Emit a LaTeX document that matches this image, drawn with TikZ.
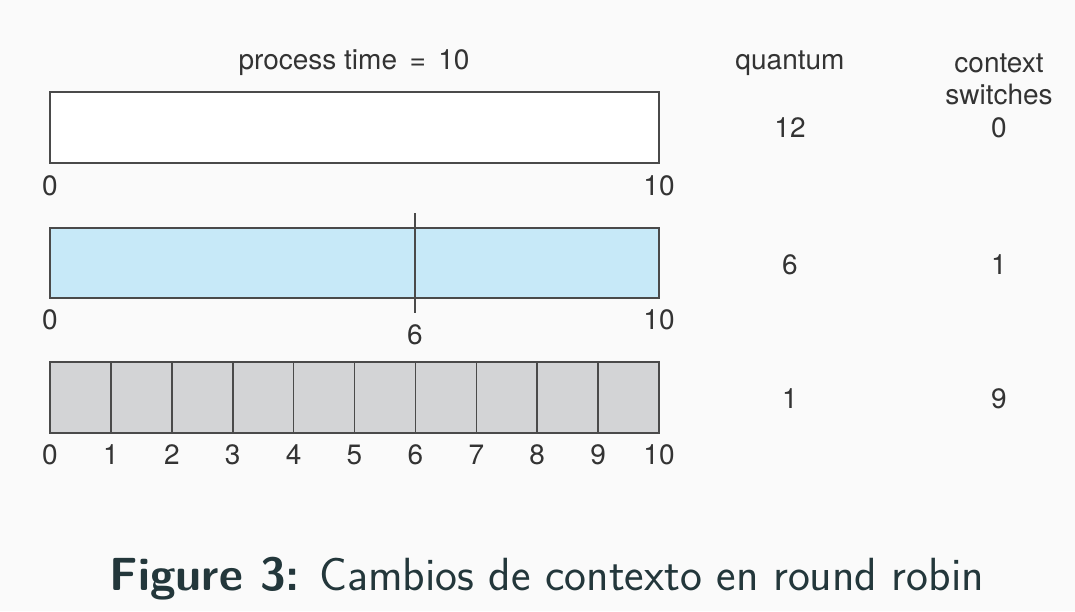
\documentclass[tikz,border=0pt]{standalone}
\usepackage{fontspec}
\newfontfamily\helv{TeX Gyre Heros}
\definecolor{bgc}{HTML}{FAFAFA}
\definecolor{edge}{HTML}{4A4A4A}
\definecolor{bluefill}{HTML}{C7E9F8}
\definecolor{grayfill}{HTML}{D3D4D6}
\definecolor{capc}{HTML}{23373B}
\definecolor{txt}{HTML}{333333}
\begin{document}
\begin{tikzpicture}[x=1pt,y=-1pt,
  lbl/.style={font=\helv\fontsize{28}{30}\selectfont, text=txt, inner sep=0pt, anchor=center},
  bar/.style={draw=edge, line width=1.6pt}]
\fill[bgc] (0,0) rectangle (1075,611);
\useasboundingbox (0,0) rectangle (1075,611);
% headings
\node[lbl] (ptime) at (354,63) {process time \,=\, 10};
\node[lbl] (quant) at (790,63) {quantum};
\node[lbl] (ctx1) at (999,63) {context};
\node[lbl] (ctx2) at (999,94) {switches};
% bar 1
\draw[bar, fill=white] (50,92) rectangle (659,163);
\node[lbl] (a0) at (50,186) {0};
\node[lbl] (a10) at (659,186) {10};
\node[lbl] (q1) at (790,128) {12};
\node[lbl] (c1) at (999,128) {0};
% bar 2
\draw[bar, fill=bluefill] (50,228) rectangle (659,298);
\draw[edge, line width=1.5pt] (415,213) -- (415,313);
\node[lbl] (b0) at (50,320) {0};
\node[lbl] (b6) at (415,335) {6};
\node[lbl] (b10) at (659,320) {10};
\node[lbl] (q2) at (790,265) {6};
\node[lbl] (c2) at (999,265) {1};
% bar 3
\draw[bar, fill=grayfill] (50,362) rectangle (659,433);
\foreach \i in {1,...,9} {
  \draw[edge, line width=1.6pt] ({50+60.9*\i},362) -- ({50+60.9*\i},433);
}
\foreach \i in {0,...,10} {
  \node[lbl] (t\i) at ({50+60.9*\i},455) {\i};
}
\node[lbl] (q3) at (790,399) {1};
\node[lbl] (c3) at (999,399) {9};
% caption
\node[font=\sffamily\fontsize{46.5}{50}\selectfont, text=capc, inner sep=0pt, anchor=base] (cap) at (547,590) {\textbf{Figure 3:} Cambios de contexto en round robin};
\end{tikzpicture}
\end{document}
